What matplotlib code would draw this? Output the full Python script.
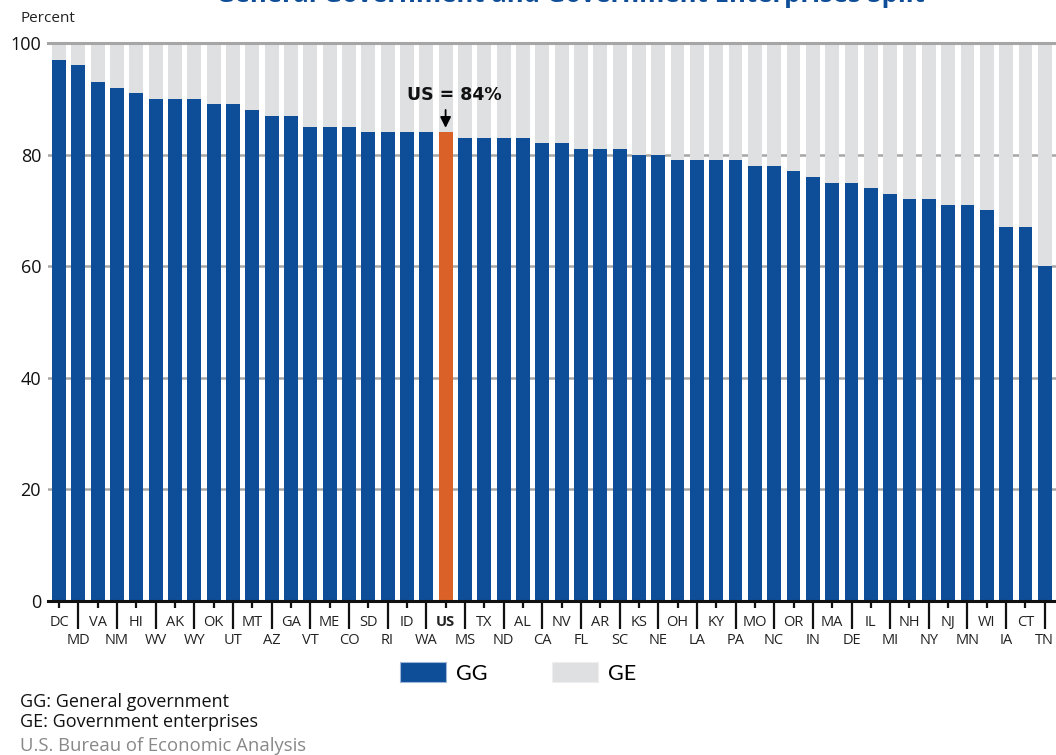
import matplotlib
matplotlib.use("Agg")
import matplotlib.pyplot as plt
import numpy as np
from matplotlib.patches import Patch

states = ["DC", "MD", "VA", "NM", "HI", "WV", "AK", "WY", "OK", "UT", "MT", "AZ", "GA",
          "VT", "ME", "CO", "SD", "RI", "ID", "WA", "US", "MS", "TX", "ND", "AL", "CA",
          "NV", "FL", "AR", "SC", "KS", "NE", "OH", "LA", "KY", "PA", "MO", "NC", "OR",
          "IN", "MA", "DE", "IL", "MI", "NH", "NY", "NJ", "MN", "WI", "IA", "CT", "TN"]
gg = [97, 96, 93, 92, 91, 90, 90, 90, 89, 89, 88, 87, 87,
      85, 85, 85, 84, 84, 84, 84, 84, 83, 83, 83, 83, 82,
      82, 81, 81, 81, 80, 80, 79, 79, 79, 79, 78, 78, 77,
      76, 75, 75, 74, 73, 72, 72, 71, 71, 70, 67, 67, 60]
ge = [100 - v for v in gg]
yticks = [0, 20, 40, 60, 80, 100]

BLUE = "#0E4D97"
GRAY = "#DFE0E2"
ORANGE = "#DA6228"
GRID = "#A6A6A6"

plt.rcParams['font.family'] = ['Open Sans', 'DejaVu Sans']

fig = plt.figure(figsize=(10.56, 7.55), dpi=100)
ax = fig.add_axes([48/1056, 1 - 601/755, 1 - 48/1056, (601 - 43)/755])

x = np.arange(len(states))
colors = [ORANGE if s == "US" else BLUE for s in states]
ax.bar(x, gg, width=0.72, color=colors, zorder=2)
ax.bar(x, ge, bottom=gg, width=0.72, color=GRAY, zorder=2)

ax.set_xlim(-0.57, 51.58)
ax.set_ylim(0, 100)

for yv in yticks[1:-1]:
    ax.axhline(yv, color=GRID, lw=1.8, zorder=1)
ax.axhline(100, color=GRID, lw=2.2, zorder=3, clip_on=False)

for side in ["top", "right", "left"]:
    ax.spines[side].set_visible(False)
ax.spines["bottom"].set_linewidth(2.2)
ax.spines["bottom"].set_color("#111111")
ax.spines["bottom"].set_zorder(4)

ax.set_yticks(yticks)
ax.set_yticklabels([str(v) for v in yticks], fontsize=13, color="#111111")
ax.tick_params(axis="y", length=0, pad=5)

even = x[::2]
odd = x[1::2]
ax.set_xticks(even)
ax.set_xticklabels([states[i] for i in even], fontsize=10.5, color="#222222")
ax.set_xticks(odd, minor=True)
ax.set_xticklabels([states[i] for i in odd], minor=True, fontsize=10.5, color="#222222")
ax.tick_params(axis="x", which="major", length=5, width=1.6, color="#111111", pad=5)
ax.tick_params(axis="x", which="minor", length=20, width=1.6, color="#111111", pad=3)
for lbl in ax.get_xticklabels():
    if lbl.get_text() == "US":
        lbl.set_fontweight("bold")

us_i = states.index("US")
ax.annotate("", xy=(us_i, gg[us_i] + 0.3), xytext=(us_i, gg[us_i] + 4.5),
            arrowprops=dict(arrowstyle="-|>", color="black", lw=1.3, mutation_scale=16),
            zorder=5)
ax.text(us_i + 0.45, gg[us_i] + 5.0, "US = 84%", ha="center", va="bottom", fontsize=12.5,
        fontweight="bold", family=["DejaVu Sans"], color="#111111", zorder=5)

fig.text(20/1056, 1 - 18/755, "Percent", fontsize=11, color="#222222", va="center", ha="left")

fig.text(570/1056, 1 - 2/755, "General Government and Government Enterprises Split",
         fontsize=18.5, fontweight="bold", color=BLUE, ha="center", va="baseline")

handles = [Patch(facecolor=BLUE, edgecolor="#9DB7D8", lw=0.8, label="GG"),
           Patch(facecolor=GRAY, edgecolor="#EEEEEE", lw=0.8, label="GE")]
leg = fig.legend(handles=handles, loc="center", bbox_to_anchor=(518/1056, 1 - 673/755), ncol=2,
                 frameon=False, handlelength=2.15, handleheight=1.05,
                 columnspacing=3.0, handletextpad=0.45,
                 prop={'family': ['Lato', 'DejaVu Sans'], 'size': 15.5})

fig.text(20/1056, 1 - 702/755, "GG: General government", fontsize=13, color="#111111", va="center")
fig.text(20/1056, 1 - 722/755, "GE: Government enterprises", fontsize=13, color="#111111", va="center")
fig.text(20/1056, 1 - 746/755, "U.S. Bureau of Economic Analysis", fontsize=13.3, color="#888888", va="center")

fig.savefig("out.png", dpi=100)
